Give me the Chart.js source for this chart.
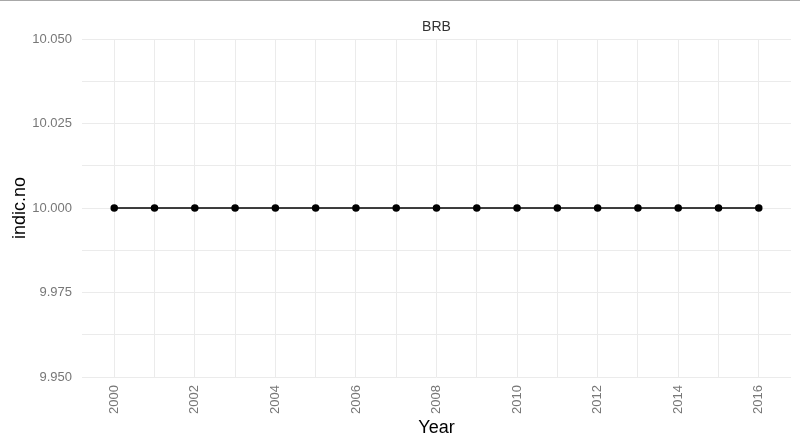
<!DOCTYPE html>
<html>
<head>
<meta charset="utf-8">
<script src="https://cdn.jsdelivr.net/npm/chart.js@4"></script>
<style>
  html, body { margin: 0; padding: 0; background: #fff; }
  body { width: 800px; height: 446px; overflow: hidden; border-top: 1px solid #a8a8a8; box-sizing: border-box; }
  #wrap { width: 800px; height: 445px; position: relative; }
</style>
</head>
<body>
<div id="wrap"><canvas id="chart"></canvas></div>
<script>
// data
const years = [2000, 2001, 2002, 2003, 2004, 2005, 2006, 2007, 2008, 2009, 2010, 2011, 2012, 2013, 2014, 2015, 2016];
const indicNo = [10, 10, 10, 10, 10, 10, 10, 10, 10, 10, 10, 10, 10, 10, 10, 10, 10];
const yTicks = [9.95, 9.9625, 9.975, 9.9875, 10.0, 10.0125, 10.025, 10.0375, 10.05];
const yLabelled = ["9.950", "9.975", "10.000", "10.025", "10.050"];

const font = "'Liberation Sans', Arial, sans-serif";
const gridColor = "#ebebeb";
const tickColor = "#777";

const points = years.map((y, i) => ({ x: y, y: indicNo[i] }));

const ctx = document.getElementById("chart").getContext("2d");
new Chart(ctx, {
    type: "line",
    data: {
        datasets: [{
            data: points,
            borderColor: "#000",
            backgroundColor: "#000",
            borderWidth: 1.5,
            pointRadius: 3,
            pointHoverRadius: 3,
            tension: 0
        }]
    },
    options: {
        responsive: true,
        maintainAspectRatio: false,
        animation: false,
        layout: { padding: { left: 0, right: 9, top: 0, bottom: 0 } },
        plugins: {
            legend: { display: false },
            tooltip: { enabled: false },
            title: {
                display: true,
                fullSize: false, // center over the panel, like a facet strip
                text: "BRB",
                color: "#333",
                font: { family: font, size: 14, weight: "normal" },
                padding: { top: 17.6, bottom: 3.6 }
            }
        },
        scales: {
            x: {
                type: "linear",
                min: 1999.2,
                max: 2016.8,
                afterBuildTicks: function (axis) {
                    axis.ticks = years.map(v => ({ value: v }));
                },
                afterFit: function (axis) { axis.height = 69; },
                ticks: {
                    color: tickColor,
                    font: { family: font, size: 13 },
                    minRotation: 90,
                    maxRotation: 90,
                    padding: 8,
                    autoSkip: false,
                    callback: function (v) { return v % 2 === 0 ? String(v) : ""; }
                },
                grid: { color: gridColor, drawTicks: false, lineWidth: 1 },
                border: { display: false },
                title: {
                    display: true,
                    text: "Year",
                    color: "#000",
                    font: { family: font, size: 18 },
                    padding: { top: 7, bottom: 7 }
                }
            },
            y: {
                type: "linear",
                min: 9.95,
                max: 10.05,
                afterBuildTicks: function (axis) {
                    axis.ticks = yTicks.map(v => ({ value: v }));
                },
                afterFit: function (axis) { axis.width = 82; },
                ticks: {
                    color: tickColor,
                    font: { family: font, size: 13 },
                    padding: 10,
                    autoSkip: false,
                    callback: function (v) {
                        const s = v.toFixed(3);
                        return yLabelled.includes(s) ? s : "";
                    }
                },
                grid: { color: gridColor, drawTicks: false, lineWidth: 1 },
                border: { display: false },
                title: {
                    display: true,
                    text: "indic.no",
                    color: "#000",
                    font: { family: font, size: 18 },
                    padding: { top: 9, bottom: 9 }
                }
            }
        }
    }
});
</script>
</body>
</html>
